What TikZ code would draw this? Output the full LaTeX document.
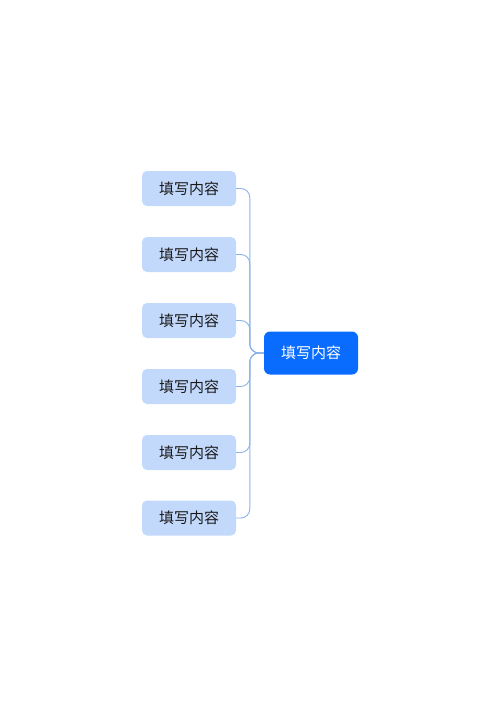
\documentclass[tikz,border=0pt]{standalone}
\usepackage{fontspec}
\newfontfamily\cjk{Noto Sans CJK SC}
\definecolor{leaf}{HTML}{C3D9FB}
\definecolor{rootc}{HTML}{0A6CFF}
\definecolor{linec}{HTML}{8CB2E8}
\definecolor{txt}{HTML}{1A1A1A}
\tikzset{
  leafbox/.style={draw=none, fill=leaf, rounded corners=5pt, minimum width=94pt, minimum height=35pt, inner sep=0pt, font=\cjk\fontsize{15}{18}\selectfont, text=txt},
  rootbox/.style={draw=none, fill=rootc, rounded corners=6pt, minimum width=94pt, minimum height=43pt, inner sep=0pt, font=\cjk\fontsize{15}{18}\selectfont, text=white},
  conn/.style={draw=linec, line width=0.9pt, rounded corners=9pt}
}
\begin{document}
\begin{tikzpicture}[x=1pt,y=-1pt]
\useasboundingbox (0,0) rectangle (500,707);
\node[rootbox] (root) at (311,353) {填写内容};
\foreach \i/\y in {1/188.5,2/254.5,3/320.5,4/386.5,5/452.5,6/518}{
  \node[leafbox] (c\i) at (189,\y) {填写内容};
}
\foreach \i in {1,...,6}{
  \draw[conn] (root.west) -- ([xshift=-14pt]root.west) |- (c\i.east);
}
\end{tikzpicture}
\end{document}
